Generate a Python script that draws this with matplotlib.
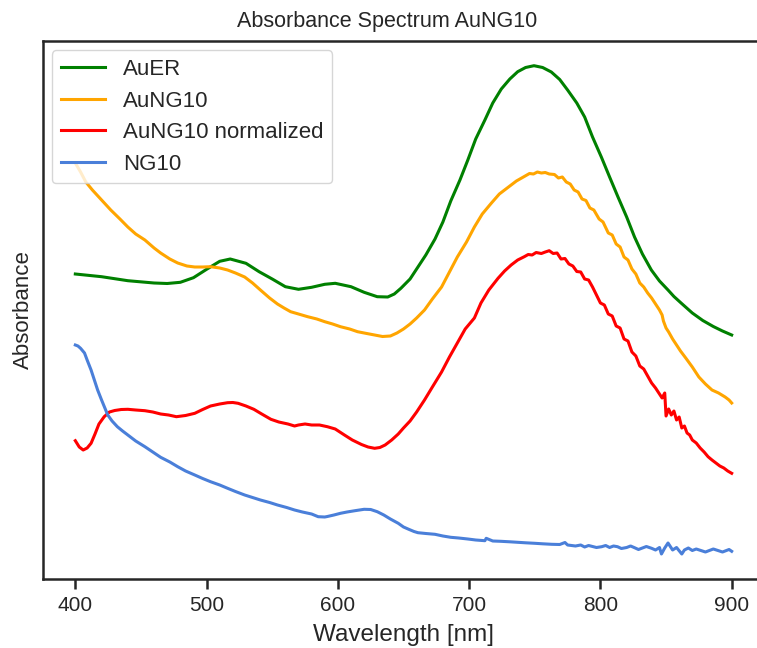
import matplotlib
matplotlib.use("Agg")
import matplotlib.pyplot as plt

# ---------------- data (arbitrary absorbance units) ----------------
# each series: (wavelength nm, absorbance a.u.)
auer = [(400, 305), (420, 302.3), (440, 298.3), (460, 296), (470, 295.5), (480, 296.7), (490, 301.3),
        (500, 309.7), (510, 317.7), (518, 320), (530, 315.7), (540, 307.3), (550, 300), (560, 292.3),
        (570, 289.7), (580, 291.7), (590, 294.7), (598, 295.7), (610, 292.3), (620, 286.7),
        (630, 282.3), (638, 282), (643, 285), (648, 290.7), (655, 300), (661, 312), (667, 324),
        (674, 340), (680, 357), (686, 378), (693, 399), (699, 419), (705, 440), (712, 459),
        (718, 476), (724.5, 490), (731, 500), (737, 507.3), (743, 511.5), (749.4, 513.3),
        (756, 511.5), (762.6, 507), (769, 499.5), (775, 489), (782, 476), (788, 462), (794, 442),
        (800.7, 422), (807, 402), (813.4, 382), (820, 362), (826, 342), (832, 325), (838.8, 309),
        (845, 298), (851.5, 289), (856, 282.5), (861.7, 275.7), (870, 266), (878, 258.5),
        (886, 252.5), (893, 248), (900, 244)]

aung10 = [(400, 416), (404, 407), (408, 397), (413, 389), (420, 379), (427, 369), (434, 360),
          (440, 352), (446, 345), (453, 339), (460, 331), (465, 326), (472, 320), (478, 316),
          (485, 313), (491, 312), (497, 312), (503, 312.3), (510, 311), (516, 309), (522, 306),
          (529, 302), (535, 296), (541, 289), (548, 281), (554, 275), (559, 271), (564, 267.3),
          (570, 265), (577, 262.3), (584, 260), (590, 257.3), (596, 255), (602, 252.3), (609, 250),
          (615, 247.3), (622, 245.5), (628, 244), (634, 242.5), (640, 243), (645, 246), (650, 250),
          (655, 255), (660, 261), (666, 269), (672, 280), (679, 292), (685, 307), (691, 322),
          (698, 337), (704, 352), (710, 365), (717, 376), (723, 385), (730, 392), (736, 398),
          (742, 402.5), (746, 405.5), (749, 405), (752, 407), (755, 406), (758, 406.5), (761, 405),
          (765, 404.5), (768, 401), (771, 402), (774, 397), (777, 395), (780, 389), (783, 387),
          (786, 380), (789, 378.5), (792, 371), (795, 369), (799, 360), (802, 357), (806, 346),
          (809, 344), (812, 335), (815, 332), (818, 322), (821, 319), (824, 310), (827, 305),
          (830, 296), (833, 292), (836, 286), (839, 281), (842, 275), (845, 269), (847, 264),
          (848, 258), (850, 251), (852, 247), (855, 240), (858, 234), (861, 228), (865, 221),
          (870, 212), (875, 202), (880, 195), (885, 189), (890, 186), (895, 182), (898, 179),
          (900, 176)]

aung10_norm = [(400, 138.3), (403, 132), (406, 129), (409, 131), (412, 135.7), (415, 145), (418, 155),
               (422, 162.3), (426, 167), (430, 168.5), (435, 169.5), (440, 169.7), (446, 169),
               (453, 168.3), (459, 167), (465, 165), (471, 164), (477, 162.3), (484, 163.5),
               (491, 165.7), (497, 169.5), (503, 173), (510, 175), (516, 176.3), (520, 176.5),
               (524, 175.7), (530, 173), (536, 169.7), (542, 165), (549, 159.7), (555, 157),
               (562, 155), (567, 153), (570, 154), (575, 155), (580, 154), (586, 154), (592, 152.3),
               (598, 150), (605, 144), (611, 139), (618, 134.5), (623, 132), (628, 130.7),
               (632, 131.5), (636, 134), (641, 139), (646, 145), (650, 151), (655, 158), (660, 167),
               (666, 179), (672, 192), (679, 207), (685, 222), (691, 236), (697, 250), (704, 261),
               (709, 276), (715, 289), (722, 300.7), (727, 308), (732, 314), (737, 319), (742, 322.3),
               (745, 324.5), (748, 324), (751, 326.5), (755, 325.5), (758, 327), (761, 328.3),
               (764, 325.5), (767, 326), (770, 320), (773, 320.5), (776, 315), (779, 313),
               (782, 307.5), (785, 307), (788, 300), (791, 299), (794, 292), (797, 284), (800, 276),
               (803, 274), (806, 265), (809, 263), (812, 253), (815, 251), (818, 240), (821, 238),
               (824, 227), (827, 223), (830, 213), (833, 210), (836, 203), (839, 196), (842, 191),
               (845, 185), (847, 181), (849, 186), (850, 163), (852, 170), (854, 164), (856, 168),
               (858, 159), (860, 162), (862, 151), (864, 153), (866, 146), (868, 144), (870, 139),
               (873, 136), (876, 131), (879, 127), (882, 122.3), (885, 119), (888, 116), (891, 113),
               (894, 111), (897, 108), (900, 105.7)]

ng10 = [(400, 234), (402, 233), (404, 230.7), (407, 226), (409, 219), (412, 209), (414.5, 199),
        (417, 189), (420, 179), (424.7, 164), (428, 158), (432, 152.3), (436, 148), (440, 144),
        (446, 138), (453, 132.3), (459, 127), (465, 121.7), (472, 117), (478, 112.3), (484, 108),
        (491, 104), (497, 100.5), (503, 97.3), (510, 94), (516, 90.7), (522, 87.5), (529, 84),
        (535, 81.5), (541, 79), (548, 76.5), (554, 74), (561, 71.5), (567, 69), (573, 67), (580, 65),
        (585, 62.3), (590, 62), (592, 62.5), (597, 64), (602, 65.7), (607, 67), (613, 68.3),
        (620, 69.7), (625, 69.5), (630, 67.3), (635, 64), (640, 60), (646, 55.7), (650, 52),
        (654, 49.7), (658, 47.5), (661, 46.3), (667, 45.5), (674, 44.7), (680, 43), (686, 41.7),
        (692, 41), (699, 40), (705, 39), (712, 38.3), (713, 40.7), (718, 38), (724, 37.7),
        (731, 37.2), (737, 36.7), (743, 36.2), (750, 35.7), (756, 35.2), (763, 34.7), (769, 34.5),
        (773, 36.5), (775, 34), (781, 33), (785, 34), (788, 32), (791, 33.5), (794, 32.5),
        (797, 31.5), (801, 32.3), (804, 33.5), (807, 31.5), (810, 33), (813, 32.3), (816, 30.5),
        (820, 31.5), (823, 33), (826, 31.3), (829, 29.5), (832, 31), (835, 32.5), (839, 30.7),
        (842, 29), (845, 31.5), (846.5, 25), (849, 31), (851.5, 36), (855, 29), (858, 31.5),
        (862, 25), (864, 29), (867, 31), (870, 28.5), (873, 30), (877, 28.3), (880, 27),
        (883, 28.5), (886, 30), (890, 28.3), (893, 27), (895, 28), (898, 29.5), (900, 27.7)]

series_labels = ["AuER", "AuNG10", "AuNG10 normalized", "NG10"]
series_colors = ["green", "orange", "red", "#4a7fd9"]
x_ticks = [400, 500, 600, 700, 800, 900]

# ---------------- style ----------------
plt.rcParams["font.family"] = ["Liberation Sans", "DejaVu Sans"]
plt.rcParams["text.color"] = "0.15"
plt.rcParams["axes.labelcolor"] = "0.15"
plt.rcParams["xtick.color"] = "0.15"
plt.rcParams["ytick.color"] = "0.15"

W, H, DPI = 757, 648, 100
fig = plt.figure(figsize=(W / DPI, H / DPI), dpi=DPI)
ax_left, ax_right, ax_top, ax_bottom = 42.5, 764.5, 41, 579
ax = fig.add_axes([ax_left / W, 1 - ax_bottom / H, (ax_right - ax_left) / W, (ax_bottom - ax_top) / H])

for series, lab, col in zip([auer, aung10, aung10_norm, ng10], series_labels, series_colors):
    wl = [p[0] for p in series]
    ab = [p[1] for p in series]
    ax.plot(wl, ab, color=col, lw=2.2, label=lab)

ax.set_xlim(375, 925)
ax.set_ylim(0, 538)
ax.set_xticks(x_ticks)
ax.set_xticklabels([str(t) for t in x_ticks], fontsize=15)
ax.set_yticks([])
for s in ax.spines.values():
    s.set_linewidth(1.8)
    s.set_color("0.15")
ax.tick_params(axis="x", length=7, width=1.8, pad=5)

ax.set_xlabel("Wavelength [nm]", fontsize=17.5, labelpad=7)
ax.set_ylabel("Absorbance", fontsize=16, labelpad=6)
fig.text(386.7 / W, 1 - 21.5 / H, "Absorbance Spectrum AuNG10", fontsize=15.5,
         ha="center", va="center", color="0.15")

leg = ax.legend(loc="upper left", fontsize=16, frameon=True, fancybox=True, framealpha=0.8,
                edgecolor="0.8", borderaxespad=0.42, handlelength=2.0, labelspacing=0.47)
for line in leg.get_lines():
    line.set_linewidth(2.2)

fig.savefig("out.png", dpi=DPI)
